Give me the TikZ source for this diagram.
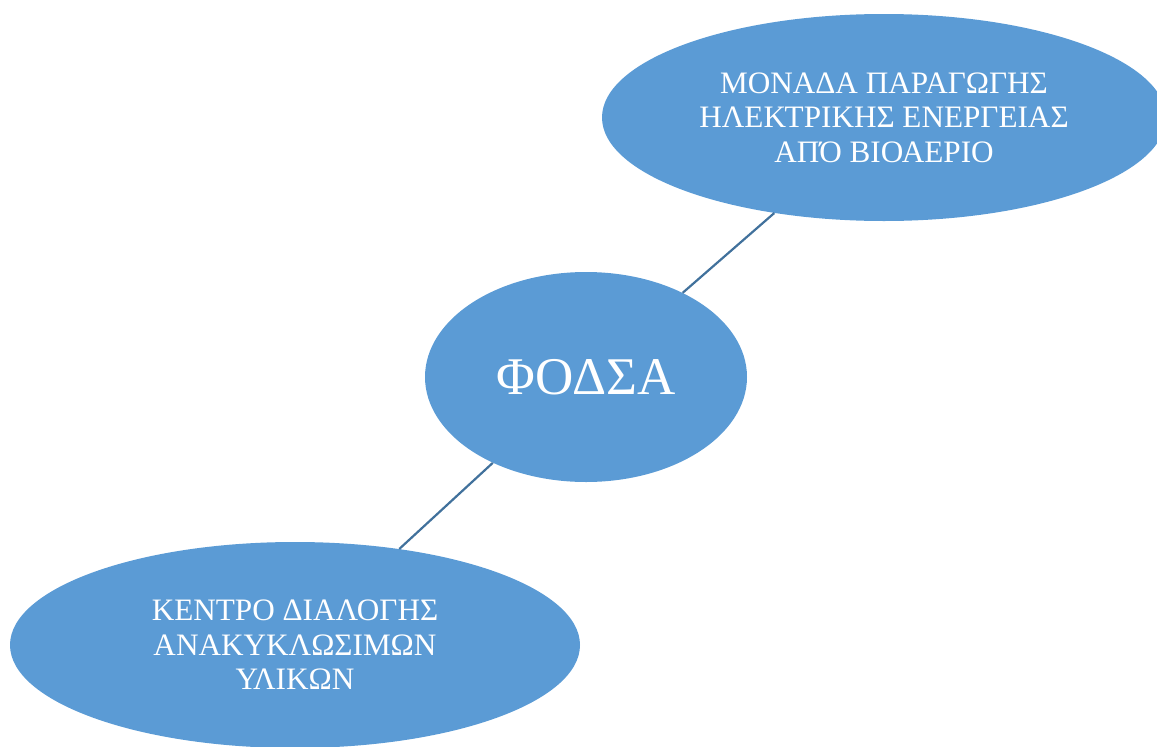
\documentclass[tikz,border=0pt]{standalone}
\usepackage{fontspec}
\setmainfont{Liberation Serif}
\usetikzlibrary{shapes.geometric}
\definecolor{bubble}{HTML}{5B9BD5}
\definecolor{linkc}{HTML}{41719C}
\tikzset{
  bubble/.style={ellipse, fill=bubble, inner sep=0pt, text=white, align=center},
  link/.style={draw=linkc, line width=2.2pt},
  smalltext/.style={font=\fontsize{31.2}{34.5}\selectfont},
}
\begin{document}
\begin{tikzpicture}[x=1pt,y=1pt]
\useasboundingbox (0,0) rectangle (1157,-747);
\clip (0,0) rectangle (1157,-747);
\node[bubble, smalltext, minimum width=564pt, minimum height=207pt] (top) at (884,-117.5)
  {ΜΟΝΑΔΑ ΠΑΡΑΓΩΓΗΣ\\ΗΛΕΚΤΡΙΚΗΣ ΕΝΕΡΓΕΙΑΣ\\ΑΠΌ ΒΙΟΑΕΡΙΟ};
\node[bubble, minimum width=322pt, minimum height=210pt,
      font=\fontsize{53}{60}\selectfont] (mid) at (586,-377) {ΦΟΔΣΑ};
\node[bubble, smalltext, minimum width=570pt, minimum height=206pt] (bot) at (295,-645)
  {ΚΕΝΤΡΟ ΔΙΑΛΟΓΗΣ\\ΑΝΑΚΥΚΛΩΣΙΜΩΝ\\ΥΛΙΚΩΝ};
\draw[link] (mid) -- (top);
\draw[link] (mid) -- (bot);
\end{tikzpicture}
\end{document}
